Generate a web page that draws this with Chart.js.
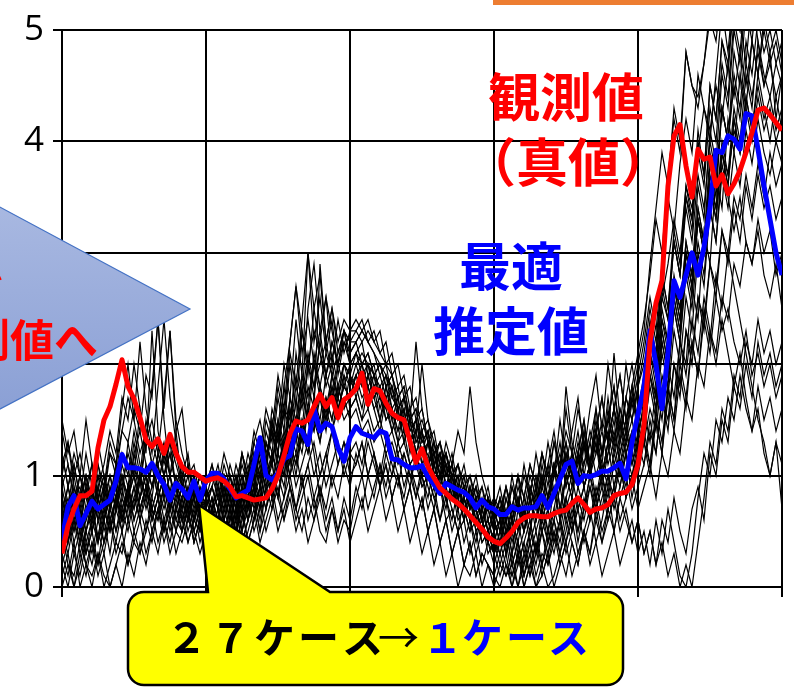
<!DOCTYPE html>
<html lang="ja">
<head>
<meta charset="utf-8">
<title>観測値と最適推定値</title>
<script src="https://cdn.jsdelivr.net/npm/chart.js@4.4.0/dist/chart.umd.min.js"></script>
<style>
  html, body { margin: 0; padding: 0; background: #fff; overflow: hidden; }
  canvas { display: block; }
</style>
</head>
<body>
<canvas id="chart" width="794" height="694"></canvas>
<script>
// Time steps along the horizontal axis (0 .. 120)
const steps = Array.from({ length: 121 }, (_, i) => i);
const yTicks = [0, 1, 2, 3, 4, 5];

// Observed (true) values
const observed = [
  0.30,0.55,0.70,0.82,0.82,0.86, 1.25,1.50,1.62,1.82,2.04,1.80, 1.69,1.52,1.32,1.26,1.33,1.20, 1.37,1.20,1.08,1.03,1.03,0.99, 0.95,
  0.97,0.98,0.95,0.90,0.81,0.82, 0.80,0.78,0.79,0.80,0.88,1.00, 1.18,1.38,1.49,1.47,1.50,1.62, 1.73,1.62,1.70,1.52,1.68,1.72,
  1.78,1.92,1.64,1.78,1.76,1.65, 1.56,1.52,1.50,1.31,1.12,1.24, 1.08,0.98,0.89,0.84,0.79,0.75, 0.70,0.64,0.58,0.52,0.45,0.41,
  0.39,0.44,0.50,0.58,0.62,0.64, 0.64,0.63,0.63,0.66,0.68,0.69, 0.75,0.80,0.74,0.67,0.70,0.71, 0.74,0.82,0.84,0.85,0.92,1.10,
  1.45,2.20,2.55,2.75,3.60,4.05, 4.15,3.78,3.50,3.93,3.84,3.86, 3.60,3.70,3.53,3.62,3.74,3.90, 4.08,4.28,4.30,4.24,4.17,4.10
];

// Best estimate (single selected case)
const bestEstimate = [
  0.42,0.72,0.82,0.55,0.66,0.77, 0.70,0.74,0.78,0.95,1.19,1.07, 1.07,1.06,1.03,1.11,1.00,0.92, 0.78,0.93,0.88,0.80,0.95,0.78, 0.96,
  1.02,1.02,0.97,0.88,0.80,0.84, 0.87,1.10,1.34,1.00,0.96,1.02, 1.15,1.18,1.42,1.40,1.28,1.60, 1.40,1.47,1.44,1.25,1.13,1.34,
  1.44,1.38,1.36,1.34,1.40,1.38, 1.15,1.14,1.10,1.07,1.07,1.09, 0.99,0.92,0.84,0.93,0.90,0.87, 0.85,0.80,0.71,0.78,0.72,0.70,
  0.65,0.65,0.72,0.69,0.71,0.71, 0.72,0.82,0.71,0.84,0.97,1.10, 1.13,0.93,1.00,0.99,1.01,1.04, 1.04,1.07,1.11,0.97,1.30,1.55,
  1.80,2.30,2.00,1.60,2.10,2.75, 2.60,2.80,3.00,2.80,3.05,3.40, 3.92,3.90,4.05,4.02,3.93,4.25, 4.23,3.93,3.60,3.30,3.00,2.80
];

// 27 ensemble cases
const case01 = [1.4,1.1,0.8,0.9,0.6,0.8,1.0,0.9,1.2,1.1,1.4,1.3,1.6,1.4,1.9,1.7,2.4,1.6,2.3,1.5,1.2,1.0,1.1,0.8,0.9,
  0.7,0.8,0.6,0.9,0.7,0.8,1.0,0.9,1.2,1.1,1.4,1.3,1.6,1.5,1.9,1.7,2.1,1.8,2.0,2.2,1.9,2.1,2.3,2.2,
  2.2,2.3,2.2,2.1,2.0,1.9,1.8,1.6,1.7,1.5,1.4,1.5,1.3,1.2,1.3,1.1,1.0,1.1,0.9,0.8,0.9,0.7,0.8,0.6,
  0.7,0.5,0.6,0.8,0.6,0.9,0.7,1.0,0.8,1.1,0.9,1.2,1.0,0.9,1.1,1.3,1.0,1.2,1.4,1.1,1.3,1.5,1.2,1.6,
  1.8,2.2,2.0,2.6,2.9,3.3,3.0,3.6,3.4,3.9,4.3,4.0,4.6,5.2,4.8,5.4,5.1,4.7,5.3,4.9,4.5,4.8,4.2,4.6];
const case02 = [0.2,0.0,0.3,0.1,0.4,0.2,0.5,0.3,0.6,0.4,0.7,0.5,0.8,0.6,0.9,0.7,0.6,0.8,0.5,0.7,0.6,0.4,0.6,0.5,0.7,
  0.5,0.6,0.4,0.7,0.5,0.8,0.6,0.9,0.8,1.1,0.9,1.2,1.0,1.4,1.2,1.5,1.3,1.6,1.4,1.7,1.5,1.8,1.6,1.7,
  1.9,1.8,2.0,1.7,1.8,1.5,1.6,1.3,1.4,1.1,1.2,0.9,1.0,0.8,0.9,0.6,0.7,0.5,0.6,0.3,0.5,0.2,0.4,0.3,
  0.1,0.3,0.0,0.2,0.4,0.1,0.3,0.5,0.2,0.4,0.6,0.3,0.5,0.7,0.4,0.6,0.8,0.5,0.7,0.9,0.6,0.8,1.0,0.7,
  0.9,1.1,0.8,1.2,1.0,1.4,1.2,1.7,1.5,2.0,1.8,2.3,2.1,2.6,2.4,2.9,2.7,3.1,2.9,3.3,3.0,3.2,2.8,3.0];
const case03 = [0.9,0.6,1.0,0.7,0.5,0.8,0.4,0.9,0.7,1.1,0.8,1.3,1.0,1.6,1.2,2.3,1.4,1.1,1.3,0.9,1.0,0.7,0.8,0.6,0.7,
  0.6,0.4,0.7,0.5,0.9,0.6,1.0,0.8,1.3,1.1,1.6,1.4,2.0,1.7,2.4,1.9,3.0,2.2,2.6,2.1,2.4,1.9,2.2,2.0,
  2.1,2.2,1.9,2.0,1.7,1.9,1.6,1.7,1.4,1.6,1.3,1.4,1.1,1.3,1.0,1.1,0.8,1.0,0.7,0.9,0.6,0.8,0.5,0.7,
  0.5,0.8,0.6,0.4,0.7,0.5,0.9,0.6,0.8,1.1,0.7,1.0,1.2,0.9,1.3,1.0,1.4,1.1,1.6,1.2,1.5,1.3,1.7,1.4,
  1.9,2.4,2.1,2.8,2.5,3.2,2.9,3.6,3.3,4.1,3.7,4.5,4.2,4.9,4.6,5.3,5.0,5.6,5.2,5.8,5.4,5.1,5.5,5.2];
const case04 = [0.0,0.2,0.1,0.4,0.2,0.1,0.3,0.0,0.2,0.4,0.3,0.6,0.4,0.3,0.5,0.7,0.4,0.6,0.3,0.5,0.4,0.6,0.5,0.3,0.5,
  0.4,0.6,0.3,0.5,0.7,0.4,0.6,0.8,0.5,0.9,0.7,1.0,0.8,1.2,0.9,1.1,1.3,1.0,1.2,0.9,1.1,1.3,1.0,1.2,
  1.1,1.3,1.0,1.2,0.9,1.1,0.8,1.0,0.7,0.9,0.6,0.8,0.5,0.7,0.4,0.6,0.3,0.5,0.2,0.4,0.1,0.3,0.2,0.0,
  0.2,0.1,0.3,0.0,0.2,0.4,0.1,0.3,0.2,0.5,0.3,0.6,0.4,0.2,0.5,0.3,0.7,0.4,0.6,0.8,0.5,0.7,0.4,0.6,
  0.3,0.5,0.2,0.6,0.4,0.8,0.5,0.3,0.7,0.9,0.6,1.2,1.0,1.5,1.3,1.8,1.6,2.0,1.7,2.2,1.9,2.1,1.8,2.0];
const case05 = [1.2,0.9,1.1,0.8,1.0,0.7,0.9,1.1,1.4,1.2,1.7,1.5,2.0,1.6,1.3,1.5,1.2,1.0,1.2,0.9,0.8,1.0,0.7,0.9,0.8,
  0.9,0.7,1.0,0.8,0.6,0.9,0.7,1.1,0.9,1.3,1.1,1.5,1.2,1.7,1.4,1.9,1.6,2.1,1.8,1.6,1.9,1.7,2.0,1.8,
  1.9,2.0,1.8,1.9,1.7,1.6,1.8,1.5,1.6,1.3,1.5,1.2,1.4,1.0,1.2,0.9,1.1,0.8,1.0,0.7,0.9,0.6,0.8,0.5,
  0.6,0.4,0.7,0.5,0.8,0.6,0.3,0.7,0.5,0.9,0.6,1.0,0.8,1.2,0.9,1.1,1.4,1.0,1.3,1.6,1.2,1.5,1.8,1.4,
  1.6,2.0,1.7,2.3,2.0,2.6,2.3,3.0,2.7,3.3,3.0,3.6,3.3,3.9,3.6,4.2,3.9,4.4,4.1,4.6,4.3,4.0,4.4,4.1];
const case06 = [0.5,0.2,0.0,0.3,0.1,0.4,0.2,0.6,0.3,0.7,0.5,0.9,0.6,0.8,1.0,0.7,0.9,0.6,0.8,0.5,0.7,0.4,0.6,0.8,0.5,
  0.7,0.4,0.6,0.3,0.5,0.7,0.4,0.6,0.8,0.5,0.7,0.9,0.6,0.8,0.5,0.7,0.4,0.6,0.8,0.5,0.7,0.4,0.6,0.5,
  0.8,1.0,0.7,0.9,1.1,0.8,1.0,1.2,0.9,1.1,0.8,1.0,0.7,0.9,0.6,0.8,0.5,0.7,0.4,0.6,0.3,0.5,0.4,0.2,
  0.4,0.6,0.3,0.7,0.5,0.8,0.6,1.0,0.7,1.1,0.9,1.3,1.0,1.2,1.5,1.1,1.4,1.7,1.3,1.6,1.9,1.5,1.8,2.1,
  2.4,2.8,3.3,3.0,3.7,4.2,3.9,4.8,4.5,4.3,4.7,5.1,4.9,5.4,5.2,5.6,5.3,5.7,5.5,5.2,5.6,5.3,5.8,5.5];
const case07 = [0.7,0.9,0.6,0.8,0.5,0.7,0.9,0.6,0.8,1.0,0.7,0.9,1.1,0.8,1.0,0.7,0.9,1.2,0.8,1.0,0.7,0.9,0.6,0.8,0.6,
  0.8,0.6,0.9,0.7,1.0,0.8,1.1,0.9,1.3,1.0,1.5,1.2,1.8,1.4,2.1,1.7,2.5,2.9,2.3,2.6,2.0,2.4,2.1,2.3,
  2.3,2.4,2.2,2.3,2.1,2.2,1.9,2.0,1.7,1.8,1.5,1.6,1.3,1.4,1.1,1.2,0.9,1.0,0.7,0.8,0.5,0.6,0.3,0.4,
  0.2,0.4,0.1,0.3,0.0,0.2,0.4,0.1,0.3,0.5,0.2,0.4,0.6,0.3,0.5,0.7,0.4,0.6,0.9,0.5,0.8,1.0,0.7,0.9,
  1.1,1.4,1.2,1.7,1.5,2.0,1.8,2.3,2.1,2.6,2.4,2.9,2.7,3.2,3.0,3.5,3.3,3.7,3.4,3.8,3.5,3.9,3.6,3.8];
const case08 = [1.5,1.2,1.4,1.0,0.8,1.1,0.7,0.9,0.6,0.8,1.0,0.7,1.2,0.9,1.4,1.1,0.8,1.0,0.7,0.9,1.1,0.8,1.0,0.7,0.9,
  0.6,0.9,0.7,1.0,0.8,0.5,0.8,1.0,0.7,1.2,0.9,1.4,1.1,1.6,1.3,1.8,1.5,2.0,1.7,1.4,1.8,1.5,1.9,1.6,
  1.7,1.5,1.8,1.6,1.4,1.7,1.5,1.3,1.6,1.2,1.4,1.1,1.3,1.0,1.2,0.9,1.1,0.8,1.0,0.7,0.9,0.6,0.8,0.7,
  0.9,0.6,1.0,0.7,1.1,0.8,1.2,0.9,1.3,1.0,1.5,1.1,1.4,1.7,1.2,1.6,1.9,1.4,2.0,1.6,1.3,1.7,1.5,1.8,
  2.0,2.3,1.9,2.5,2.2,2.8,2.5,3.1,2.8,3.4,3.1,3.7,3.4,4.0,3.7,4.3,4.0,4.6,4.3,4.9,4.6,4.4,4.7,4.5];
const case09 = [0.3,0.1,0.4,0.0,0.2,0.0,0.3,0.1,0.0,0.2,0.4,0.2,0.5,0.3,0.6,0.4,0.7,0.5,0.8,0.6,0.5,0.7,0.4,0.6,0.5,
  0.3,0.5,0.2,0.4,0.6,0.3,0.5,0.7,0.4,0.6,0.8,0.5,0.7,0.9,0.6,0.8,1.0,0.7,0.9,0.6,0.8,0.5,0.7,0.4,
  0.6,0.8,0.5,0.7,0.9,0.6,0.8,0.5,0.7,0.4,0.6,0.3,0.5,0.2,0.4,0.1,0.3,0.0,0.2,0.1,0.3,0.0,0.2,0.1,
  0.0,0.2,0.1,0.3,0.0,0.2,0.0,0.1,0.3,0.0,0.2,0.4,0.1,0.3,0.5,0.2,0.4,0.1,0.3,0.5,0.2,0.4,0.6,0.3,
  0.5,0.2,0.6,0.3,0.7,0.4,0.1,0.0,0.3,0.8,1.2,1.0,1.5,1.3,1.7,1.5,1.9,1.6,1.4,1.8,1.5,1.7,1.4,1.6];
const case10 = [0.8,0.5,0.7,0.4,0.6,0.9,0.6,0.8,1.0,0.7,1.1,0.9,1.3,1.0,1.5,1.2,1.8,2.4,1.7,1.3,1.0,1.2,0.8,1.0,0.8,
  1.0,0.8,1.1,0.9,0.7,1.0,0.8,1.2,1.0,1.4,1.2,1.7,1.4,2.0,1.6,2.3,1.9,2.5,2.1,1.8,2.0,1.7,1.9,1.8,
  2.0,1.8,1.9,1.7,1.8,1.6,1.4,1.6,1.3,1.5,1.2,1.4,1.1,1.3,1.0,1.2,0.9,1.1,0.8,1.0,0.7,0.9,0.6,0.8,
  0.7,0.9,0.6,0.8,0.5,0.7,0.9,0.6,0.8,1.1,0.7,1.0,0.8,1.2,0.9,1.1,1.3,1.0,1.2,1.4,1.1,1.3,1.5,1.2,
  1.4,1.8,1.5,2.1,1.8,2.5,2.2,2.9,2.6,3.3,3.0,3.8,3.5,4.3,4.0,4.8,4.5,5.2,4.9,5.4,5.1,5.3,5.0,5.2];
const case11 = [1.0,1.3,0.9,0.6,0.9,0.5,0.8,0.6,0.9,0.7,1.0,0.8,1.2,1.4,1.1,0.9,1.1,0.8,1.0,0.7,0.9,0.6,0.8,0.5,0.7,
  0.5,0.7,0.9,0.6,0.8,1.0,0.7,1.0,1.3,1.1,1.5,1.3,1.8,2.2,2.7,2.3,2.0,2.3,2.1,1.9,2.2,2.0,2.3,2.2,
  2.3,2.2,2.3,2.2,2.1,2.0,1.9,1.7,1.8,1.5,1.6,1.3,1.4,1.1,1.2,0.9,1.0,0.7,0.8,0.6,0.7,0.5,0.6,0.4,
  0.6,0.3,0.5,0.8,0.5,0.7,1.0,0.7,1.1,1.4,1.0,1.8,1.3,1.1,1.4,1.0,1.3,0.9,1.2,1.5,1.1,1.4,1.2,1.6,
  1.3,1.9,1.6,2.2,1.9,2.5,2.2,2.8,2.5,3.1,2.8,3.4,3.1,3.7,3.4,3.9,3.6,4.1,3.8,4.2,3.9,3.7,4.0,3.8];
const case12 = [0.6,0.8,0.5,0.7,0.4,0.6,0.8,0.5,0.7,0.9,0.6,0.8,1.0,0.7,0.9,0.6,0.8,0.5,0.7,0.9,0.6,0.8,0.5,0.7,0.6,
  0.8,0.5,0.7,0.9,0.6,0.8,1.0,0.7,0.9,1.1,0.8,1.0,1.2,0.9,0.7,1.0,0.6,0.8,0.5,0.4,0.7,0.5,0.8,0.6,
  0.9,0.7,1.0,0.8,1.1,0.9,1.2,1.0,0.8,1.1,0.9,0.7,1.0,0.8,0.6,0.9,0.7,0.5,0.8,0.6,0.4,0.7,0.5,0.3,
  0.5,0.3,0.6,0.4,0.2,0.5,0.3,0.6,0.4,0.7,0.5,0.8,0.6,0.9,0.7,1.0,0.8,1.1,0.9,1.2,1.0,1.3,1.1,1.4,
  1.6,1.3,1.8,1.5,2.0,1.7,2.2,1.9,2.4,2.1,2.6,2.3,2.0,2.4,2.1,1.8,2.1,1.7,1.4,1.6,1.2,1.0,1.3,0.7];
const case13 = [0.4,0.7,0.5,0.8,1.0,0.7,1.1,0.8,1.2,1.0,1.4,1.7,1.5,2.2,1.6,1.3,1.1,1.3,1.0,0.8,1.0,0.7,0.9,0.6,0.8,
  0.7,0.9,0.6,0.8,1.0,0.7,0.9,1.2,0.9,1.3,1.1,1.5,1.3,1.7,1.5,1.9,1.7,2.0,1.8,2.1,1.9,1.7,2.0,1.9,
  1.8,2.0,1.7,1.9,1.6,1.8,1.5,1.7,1.4,1.5,1.2,1.4,1.1,1.2,0.9,1.1,0.8,0.9,0.6,0.8,0.5,0.6,0.4,0.5,
  0.3,0.5,0.2,0.4,0.1,0.3,0.5,0.2,0.4,0.6,0.3,0.5,0.8,0.4,0.7,0.9,0.6,0.8,1.0,0.7,0.9,1.2,0.8,1.1,
  1.3,1.0,1.5,1.2,1.8,1.5,2.2,2.0,2.7,2.4,3.2,2.9,3.7,3.4,4.2,3.9,4.6,4.3,4.9,4.6,5.1,4.8,5.0,4.7];
const case14 = [0.9,1.1,0.8,1.0,0.7,0.9,0.6,0.8,0.5,0.7,0.9,0.6,0.8,1.0,0.7,0.9,1.1,0.8,1.0,0.7,0.9,1.1,0.8,1.0,0.9,
  1.1,0.8,1.0,0.7,0.9,1.2,0.9,1.3,1.1,1.5,1.3,1.8,1.5,2.1,1.8,2.4,3.0,2.5,2.8,2.2,2.5,2.2,2.4,2.3,
  2.4,2.3,2.4,2.2,2.3,2.0,2.1,1.8,1.9,1.6,1.7,1.4,1.5,1.2,1.3,1.0,1.1,0.8,0.9,0.7,0.8,0.6,0.7,0.5,
  0.8,0.6,0.9,0.7,0.5,0.8,0.6,0.9,1.1,0.8,1.0,1.2,0.9,1.1,1.3,1.0,1.2,1.4,1.1,1.3,1.0,1.2,1.4,1.3,
  1.7,2.2,2.0,2.6,2.4,3.1,2.8,3.5,3.3,4.0,3.7,4.5,4.2,4.9,4.7,5.3,5.0,5.5,5.2,5.6,5.3,5.5,5.2,5.4];
const case15 = [0.1,0.3,0.0,0.2,0.5,0.3,0.6,0.4,0.7,0.5,0.8,0.6,0.9,0.7,0.5,0.8,0.6,0.9,0.7,0.5,0.8,0.6,0.9,0.7,0.8,
  0.6,0.4,0.6,0.8,0.5,0.7,0.4,0.6,0.9,0.7,1.0,0.8,1.1,1.3,1.0,1.4,1.2,1.6,1.3,1.7,1.5,1.8,1.6,1.9,
  1.7,1.9,1.6,1.8,1.5,1.7,1.4,1.6,1.3,1.5,1.2,1.0,1.3,1.1,0.9,1.2,1.0,0.8,0.6,0.9,0.7,0.5,0.8,0.6,
  0.4,0.2,0.0,0.3,0.1,0.4,0.2,0.5,0.3,0.6,0.4,0.7,0.5,0.8,0.6,0.9,0.7,1.0,0.8,1.1,0.9,1.2,1.0,1.3,
  1.1,1.5,1.2,1.7,1.4,2.0,1.7,2.3,2.0,2.6,2.3,2.9,2.6,3.2,2.9,3.4,3.1,3.6,3.3,3.7,3.4,3.6,3.3,3.5];
const case16 = [0.5,0.3,0.6,0.4,0.7,0.5,0.8,0.6,0.9,0.7,1.0,0.8,1.1,0.9,1.3,1.8,2.4,1.5,1.0,1.2,0.9,0.7,0.9,0.6,0.7,
  0.5,0.7,0.4,0.6,0.8,0.5,0.7,0.9,0.6,0.9,1.1,0.8,1.2,1.0,1.4,1.2,1.6,1.4,1.8,1.5,1.9,1.6,1.8,1.7,
  1.8,1.6,1.9,1.7,1.5,1.8,1.6,1.4,1.7,1.5,2.2,1.6,1.3,1.1,1.3,1.0,1.2,0.9,1.1,0.8,1.0,0.7,0.9,0.6,
  0.8,0.5,0.7,1.0,0.6,0.9,0.7,1.1,0.8,1.0,1.3,0.9,1.2,1.0,1.4,1.1,1.6,1.2,1.5,1.8,1.3,1.7,2.0,1.6,
  1.9,2.3,2.1,2.7,2.4,3.1,2.8,3.5,3.2,3.9,3.6,4.3,4.0,4.7,4.4,5.1,4.8,5.4,5.1,5.6,5.3,5.5,5.2,5.4];
const case17 = [0.7,0.4,0.8,0.5,0.9,0.6,1.0,0.7,0.5,0.8,0.6,0.9,0.7,1.0,0.8,1.1,0.9,0.7,0.9,0.6,0.8,0.5,0.7,0.4,0.6,
  0.4,0.6,0.8,0.5,0.7,0.9,0.6,0.8,1.0,0.8,1.2,1.0,1.4,1.2,1.7,1.4,2.0,1.7,2.2,1.9,2.1,1.8,2.0,1.9,
  2.1,1.9,2.0,1.8,1.9,1.7,1.8,1.5,1.6,1.3,1.4,1.1,1.2,0.9,1.0,0.8,0.9,0.6,0.7,0.5,0.6,0.4,0.5,0.3,
  0.4,0.6,0.3,0.5,0.7,0.4,0.6,0.8,0.5,0.7,1.0,0.7,0.9,1.2,0.9,1.1,1.4,1.0,1.3,2.1,1.5,1.2,1.4,1.1,
  1.3,1.6,1.4,1.9,1.7,2.3,2.0,2.6,2.3,3.0,2.7,3.4,3.1,3.8,3.5,3.2,3.5,3.1,2.9,3.2,2.8,2.6,2.9,2.5];
const case18 = [1.1,1.3,1.0,1.2,0.9,1.1,0.8,1.0,0.7,0.9,0.6,0.8,0.5,0.7,0.9,0.6,0.8,1.0,0.7,0.9,0.6,0.8,0.5,0.7,0.5,
  0.6,0.3,0.5,0.7,0.4,0.6,0.8,0.5,0.7,1.0,0.8,1.1,0.9,1.3,1.1,1.5,1.3,1.7,1.5,1.9,1.7,2.0,1.8,2.0,
  2.0,2.1,2.0,1.9,2.0,1.8,1.9,1.7,1.8,1.5,1.6,1.3,1.4,1.1,1.2,0.9,1.0,0.7,0.8,0.6,0.7,0.4,0.5,0.3,
  0.5,0.7,0.4,0.6,0.3,0.5,0.8,0.5,0.7,0.9,0.6,0.8,1.0,0.7,0.9,1.1,0.8,1.0,1.3,0.9,1.2,1.4,1.1,1.3,
  1.5,1.9,1.6,2.2,1.9,2.6,2.3,3.0,2.7,3.4,3.1,3.9,3.6,4.3,4.0,4.6,4.3,4.9,4.6,5.1,4.8,5.0,4.7,4.9];
const case19 = [0.4,0.6,0.3,0.5,0.2,0.4,0.1,0.3,0.0,0.2,0.0,0.3,0.1,0.4,0.2,0.5,0.3,0.6,0.4,0.7,0.5,0.8,0.6,0.9,0.7,
  0.9,1.1,0.8,1.0,0.7,1.2,1.0,1.3,1.5,1.2,1.4,1.1,1.3,1.0,1.2,0.9,1.1,1.3,1.0,1.2,1.4,1.1,1.3,1.2,
  1.3,1.1,1.4,1.2,1.0,1.3,1.1,0.9,1.2,1.0,0.8,1.1,0.9,0.7,1.0,0.8,0.6,0.9,0.7,0.5,0.8,0.6,0.4,0.7,
  0.5,0.8,0.6,0.9,0.7,1.0,0.8,1.2,0.9,1.3,1.0,1.6,1.2,1.0,1.3,1.1,1.5,1.2,1.7,1.3,1.6,1.4,1.8,1.5,
  1.7,2.1,1.8,2.4,2.1,2.7,2.4,3.0,2.7,3.3,3.0,3.6,3.3,3.9,3.6,4.2,3.9,4.4,4.1,4.5,4.2,4.4,4.1,4.3];
const case20 = [0.6,0.9,1.2,1.0,1.5,1.1,0.8,1.0,0.7,0.9,0.6,0.8,1.0,0.7,0.9,0.6,0.8,0.5,0.7,0.9,0.6,0.8,0.6,0.8,0.7,
  0.9,0.7,1.0,0.8,1.1,0.9,1.2,1.0,1.3,1.1,1.4,1.2,1.6,1.4,1.8,1.6,2.0,1.8,2.2,2.6,2.3,2.0,2.2,2.1,
  2.2,2.0,2.1,1.9,2.0,1.8,1.9,1.6,1.7,1.4,1.5,1.2,1.3,1.0,1.1,0.8,0.9,0.7,0.8,0.6,0.7,0.5,0.6,0.4,
  0.6,0.9,0.7,1.0,0.8,1.1,0.9,1.2,1.0,0.8,1.1,1.3,1.0,1.2,1.5,1.1,1.4,1.7,1.3,1.6,1.9,1.5,1.7,2.0,
  2.3,2.9,3.4,3.9,3.6,4.3,4.0,4.8,4.5,4.4,4.7,5.2,5.0,5.5,5.2,5.7,5.4,5.8,5.5,5.9,5.6,5.3,5.7,5.4];
const case21 = [0.3,0.5,0.8,0.6,0.3,0.5,0.2,0.4,0.6,0.3,0.5,0.2,0.4,0.6,0.3,0.5,0.7,0.4,0.6,0.3,0.5,0.7,0.4,0.6,0.4,
  0.5,0.3,0.6,0.4,0.7,0.5,0.8,0.6,0.9,0.7,1.0,0.8,0.6,0.9,0.7,0.5,0.8,0.6,0.9,0.7,1.0,0.8,1.1,0.9,
  1.2,1.0,1.3,1.1,0.9,1.2,1.0,1.3,1.1,0.9,1.2,1.0,0.8,1.1,0.9,0.7,1.0,0.8,0.6,0.9,0.7,0.5,0.8,0.6,
  0.7,0.4,0.6,0.3,0.5,0.8,0.5,0.7,0.4,0.6,0.9,0.6,0.8,0.5,0.7,1.0,0.7,0.9,0.6,0.8,1.1,0.8,1.0,1.2,
  1.4,1.1,1.6,1.3,1.8,1.5,2.0,1.7,2.2,1.9,2.4,2.1,2.6,2.3,2.5,2.2,2.0,2.3,1.9,2.1,1.8,2.0,1.7,1.9];
const case22 = [0.8,0.6,0.9,0.7,1.0,0.8,1.1,0.9,1.3,1.1,1.6,2.0,1.5,1.2,1.4,1.1,1.3,1.0,1.2,0.9,1.1,0.8,1.0,0.8,0.9,
  0.7,1.0,0.8,1.1,0.9,1.2,1.0,1.4,1.2,1.6,1.4,1.9,1.6,2.2,2.7,2.1,2.4,2.0,2.3,1.9,2.2,2.0,2.3,2.1,
  2.2,2.3,2.2,2.1,1.9,2.0,1.7,1.8,1.5,1.6,1.3,1.4,1.1,1.2,1.0,1.1,0.8,0.9,0.7,0.8,0.6,0.7,0.5,0.6,
  0.4,0.7,0.5,0.8,0.6,0.9,0.7,1.0,0.8,1.1,0.9,1.2,1.0,1.3,1.1,1.4,1.2,1.5,1.3,1.6,1.4,1.7,1.5,1.8,
  2.1,2.5,2.2,2.8,2.5,3.1,2.8,3.4,3.1,3.7,3.4,4.0,3.7,4.3,4.0,4.5,4.2,4.7,4.4,4.8,4.5,4.7,4.4,4.6];
const case23 = [0.5,0.7,0.4,0.6,0.3,0.5,0.7,0.4,0.6,0.8,0.5,0.7,0.9,0.6,0.8,0.5,0.7,0.9,0.6,0.8,0.5,0.7,0.4,0.6,0.5,
  0.7,0.5,0.8,0.6,0.9,0.7,1.0,0.8,1.1,0.9,1.2,1.0,1.3,1.1,1.5,1.3,1.6,1.4,1.7,1.5,1.8,1.6,1.7,1.5,
  1.6,1.4,1.5,1.3,1.4,1.2,1.3,1.1,1.2,1.0,1.1,0.9,1.0,1.2,1.0,1.3,1.1,1.4,1.2,1.8,1.3,1.0,0.8,0.6,
  0.8,0.6,0.9,0.7,1.0,0.8,0.6,0.9,0.7,1.0,1.2,0.9,1.1,1.4,1.0,1.3,1.6,1.2,1.5,1.8,1.4,2.0,1.6,1.9,
  2.2,2.6,2.3,2.9,3.5,3.2,3.8,4.2,3.9,4.6,4.3,4.1,4.5,4.2,4.7,4.4,4.8,4.5,4.9,4.6,5.0,4.7,4.9,4.6];
const case24 = [0.2,0.4,0.6,0.3,0.5,0.7,0.4,0.6,0.8,0.5,0.7,0.9,0.6,0.8,1.0,0.8,1.2,1.7,2.3,1.4,0.9,0.6,0.8,0.5,0.6,
  0.4,0.6,0.3,0.5,0.7,0.4,0.6,0.8,0.5,0.7,0.9,0.6,0.8,1.0,0.7,0.9,1.1,0.8,1.0,1.2,0.9,1.1,1.3,1.0,
  1.1,1.3,1.0,1.2,0.9,1.1,0.8,1.0,0.7,0.9,0.6,0.8,0.5,0.7,0.4,0.6,0.3,0.5,0.2,0.4,0.1,0.3,0.2,0.1,
  0.3,0.1,0.2,0.0,0.3,0.1,0.4,0.2,0.5,0.3,0.6,0.4,0.7,0.5,0.8,0.6,0.9,0.7,1.0,0.8,1.1,0.9,1.2,1.0,
  1.3,1.1,1.5,1.2,1.7,1.4,1.9,1.6,2.2,1.9,2.5,2.2,2.8,2.5,3.0,2.7,2.4,2.1,1.8,1.5,1.3,1.0,1.3,1.1];
const case25 = [1.2,0.9,0.7,1.0,0.8,0.6,0.9,0.7,1.0,0.8,1.2,1.0,1.4,1.1,0.9,1.1,0.8,1.0,0.7,0.9,0.7,0.9,0.6,0.8,0.6,
  0.8,0.6,0.9,0.7,0.5,0.8,0.6,0.9,0.7,1.0,1.2,1.0,1.3,1.1,1.5,1.3,1.8,1.6,2.9,2.2,2.5,2.1,2.3,2.0,
  2.1,2.0,2.1,1.9,1.8,1.9,1.7,1.6,1.7,1.4,1.5,1.3,1.4,1.1,1.2,1.0,1.1,0.8,0.9,0.7,0.8,0.6,0.7,0.5,
  0.6,0.3,0.5,0.2,0.4,0.6,0.3,0.5,0.7,0.4,0.6,0.8,0.5,0.7,0.9,0.6,0.8,1.0,0.7,0.9,1.1,0.8,1.0,1.2,
  1.5,1.9,1.7,2.3,2.0,2.7,2.4,3.1,2.8,3.6,3.3,4.1,3.8,4.6,4.3,5.0,4.7,5.3,5.0,5.5,5.2,5.4,5.1,5.3];
const case26 = [0.6,0.4,0.7,0.5,0.3,0.6,0.4,0.7,0.5,0.8,0.6,0.9,0.7,1.0,0.8,1.1,0.9,1.2,1.0,1.4,1.6,1.1,0.8,1.0,0.8,
  0.9,0.7,1.0,0.8,0.6,0.9,0.7,1.0,0.8,1.1,0.9,1.2,1.0,1.3,1.1,1.4,1.2,1.5,1.3,1.6,1.4,1.7,1.5,1.6,
  1.7,1.5,1.6,1.4,1.5,1.3,1.4,1.2,1.3,1.1,1.2,1.0,1.1,0.9,1.0,0.8,0.9,0.7,0.8,0.6,0.7,0.5,0.6,0.4,
  0.3,0.5,0.2,0.4,0.1,0.3,0.0,0.2,0.0,0.1,0.3,0.1,0.4,0.2,0.5,0.3,0.6,0.4,0.7,0.5,0.8,0.6,0.4,0.6,
  0.3,0.5,0.2,0.4,0.1,0.3,0.0,0.2,0.0,0.4,0.8,1.3,1.1,1.6,1.4,1.9,1.7,2.2,2.0,2.4,2.1,2.3,2.0,2.2];
const case27 = [1.0,0.7,1.1,0.8,1.2,0.9,1.3,1.0,0.8,1.1,0.9,1.2,1.0,0.8,1.1,0.9,1.2,1.0,1.3,1.1,0.9,1.1,0.8,1.0,0.9,
  1.1,0.9,1.2,1.0,0.8,1.1,0.9,1.2,1.0,1.3,1.1,1.4,1.2,1.6,1.3,1.7,1.5,1.2,0.8,1.1,1.4,1.6,1.8,1.7,
  1.9,1.7,1.8,1.6,1.7,1.5,1.6,1.4,1.5,1.3,1.4,2.0,1.5,1.3,1.1,1.2,1.0,1.1,0.9,1.0,0.8,0.9,0.7,0.8,
  0.6,0.9,0.7,1.0,0.8,1.1,0.9,1.2,1.0,1.3,1.1,1.4,1.2,1.6,1.3,1.1,1.4,1.2,1.5,1.3,1.6,1.4,1.7,1.5,
  1.8,2.1,1.9,2.4,2.2,2.7,2.5,3.0,2.8,3.3,3.1,3.6,3.4,3.9,3.7,4.1,3.9,4.3,4.0,4.4,4.1,4.3,4.0,4.2];

const ensemble = [case01, case02, case03, case04, case05, case06, case07, case08, case09,
  case10, case11, case12, case13, case14, case15, case16, case17, case18,
  case19, case20, case21, case22, case23, case24, case25, case26, case27];

const JP = '"Noto Sans CJK JP", "Noto Sans CJK SC", sans-serif';

// Callouts, labels and shapes drawn over the plot
const overlay = {
  id: 'overlay',
  beforeDraw(chart) {
    const ctx = chart.ctx;
    ctx.save();
    ctx.fillStyle = '#ffffff';
    ctx.fillRect(0, 0, chart.width, chart.height);
    ctx.restore();
  },
  afterDraw(chart) {
    const ctx = chart.ctx;
    ctx.save();

    // series labels
    ctx.textAlign = 'center';
    ctx.textBaseline = 'middle';
    ctx.font = 'bold 52px ' + JP;
    ctx.fillStyle = '#FF0000';
    ctx.fillText('観測値', 566, 97);
    ctx.fillText('（真値）', 568, 162);
    ctx.fillStyle = '#0000FF';
    ctx.fillText('最適', 511, 266);
    ctx.fillText('推定値', 511, 331);

    // blue arrow head on the left
    const grad = ctx.createLinearGradient(0, 207, 0, 410);
    grad.addColorStop(0, '#A8B8E1');
    grad.addColorStop(1, '#8BA0D5');
    ctx.beginPath();
    ctx.moveTo(-2, 206);
    ctx.lineTo(190, 309);
    ctx.lineTo(-2, 410);
    ctx.closePath();
    ctx.fillStyle = grad;
    ctx.fill();
    ctx.strokeStyle = '#4472C4';
    ctx.lineWidth = 1.2;
    ctx.stroke();

    ctx.textAlign = 'right';
    ctx.fillStyle = '#FF0000';
    ctx.font = 'bold 44px ' + JP;
    ctx.fillText('推定値を', 6, 282);
    ctx.fillText('観測値へ', 98, 340);

    // page edge below the chart
    ctx.fillStyle = '#ffffff';
    ctx.fillRect(0, 600, chart.width, chart.height - 600);

    // yellow speech bubble
    const x0 = 128, y0 = 592, x1 = 623, y1 = 685, r = 16;
    ctx.beginPath();
    ctx.moveTo(x0 + r, y0);
    ctx.lineTo(208, y0);
    ctx.lineTo(199, 505);
    ctx.lineTo(330, y0);
    ctx.lineTo(x1 - r, y0);
    ctx.arcTo(x1, y0, x1, y0 + r, r);
    ctx.lineTo(x1, y1 - r);
    ctx.arcTo(x1, y1, x1 - r, y1, r);
    ctx.lineTo(x0 + r, y1);
    ctx.arcTo(x0, y1, x0, y1 - r, r);
    ctx.lineTo(x0, y0 + r);
    ctx.arcTo(x0, y0, x0 + r, y0, r);
    ctx.closePath();
    ctx.fillStyle = '#FFFF00';
    ctx.fill();
    ctx.strokeStyle = '#000000';
    ctx.lineWidth = 2.5;
    ctx.stroke();

    ctx.textAlign = 'left';
    ctx.textBaseline = 'middle';
    ctx.font = 'bold 41px ' + JP;
    ctx.fillStyle = '#000000';
    const head = ['２', '７', 'ケ', 'ー', 'ス'];
    head.forEach((ch, k) => ctx.fillText(ch, 166 + 44 * k, 637));
    ctx.font = '41px ' + JP;
    ctx.fillText('→', 378, 637);
    ctx.font = 'bold 41px ' + JP;
    ctx.fillStyle = '#0000FF';
    const tail = [['１', 422], ['ケ', 462], ['ー', 506], ['ス', 548]];
    tail.forEach(([ch, x]) => ctx.fillText(ch, x, 637));

    // orange rule at the top right
    ctx.fillStyle = '#ED7D31';
    ctx.fillRect(493, 0, 301, 5);

    ctx.restore();
  }
};

// Lower "order" is drawn on top: observed > best estimate > ensemble
const datasets = ensemble.map((values, k) => ({
  label: 'ケース' + (k + 1),
  data: values,
  borderColor: '#000000',
  borderWidth: 1.2,
  pointRadius: 0,
  fill: false,
  tension: 0,
  order: 2
}));
datasets.push({
  label: '最適推定値',
  data: bestEstimate,
  borderColor: '#0000FF',
  borderWidth: 5,
  pointRadius: 0,
  fill: false,
  tension: 0,
  borderJoinStyle: 'round',
  order: 1
});
datasets.push({
  label: '観測値（真値）',
  data: observed,
  borderColor: '#FF0000',
  borderWidth: 5,
  pointRadius: 0,
  fill: false,
  tension: 0,
  borderJoinStyle: 'round',
  order: 0
});

new Chart(document.getElementById('chart'), {
  type: 'line',
  data: { labels: steps, datasets },
  options: {
    responsive: false,
    animation: false,
    devicePixelRatio: 1,
    layout: { padding: { left: 0, top: 27, right: 12, bottom: 97 } },
    plugins: { legend: { display: false }, tooltip: { enabled: false } },
    scales: {
      x: {
        type: 'linear',
        min: 0,
        max: 120,
        ticks: { stepSize: 24, display: false },
        grid: { color: '#000000', lineWidth: 2, tickLength: 10, drawTicks: true },
        border: { color: '#000000', width: 2 },
        afterFit: (scale) => { scale.height = 10; }
      },
      y: {
        min: yTicks[0],
        max: yTicks[yTicks.length - 1],
        afterBuildTicks: (scale) => { scale.ticks = yTicks.map(v => ({ value: v })); },
        ticks: {
          color: '#000000',
          padding: 9,
          font: { family: '"Open Sans", "Noto Sans", sans-serif', size: 35 }
        },
        grid: { color: '#000000', lineWidth: 2, tickLength: 9 },
        border: { color: '#000000', width: 2 },
        afterFit: (scale) => { scale.width = 62; }
      }
    }
  },
  plugins: [overlay]
});
</script>
</body>
</html>
